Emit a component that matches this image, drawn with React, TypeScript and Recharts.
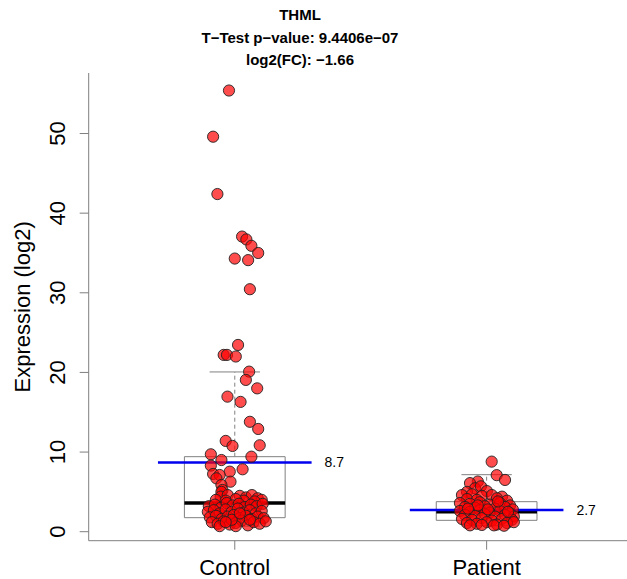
import React from 'react';
import {
  ComposedChart,
  Scatter,
  XAxis,
  YAxis,
  ReferenceArea,
  ReferenceLine,
} from 'recharts';

const groups = ['Control', 'Patient'];
const yTicks = [0, 10, 20, 30, 40, 50];

const titleLines = ['THML', 'T\u2212Test p\u2212value: 9.4406e\u221207', 'log2(FC): \u22121.66'];

// box statistics: [whiskerLo, q1, median, q3, whiskerHi, mean]
const controlStats = [0.7, 1.76, 3.6, 9.42, 20.06, 8.7];
const patientStats = [0.75, 1.43, 2.5, 3.77, 7.16, 2.72];
const meanLabels = ['8.7', '2.7'];

const controlPoints: [number, number][] = [
  [0.977, 55.4], [0.914, 49.6], [0.931, 42.4], [1.029, 37.06], [1.046, 36.7], [1.066, 35.9],
  [1.093, 35.0], [1.0, 34.3], [1.053, 34.1], [1.06, 30.45],
  [1.013, 23.45], [0.956, 22.2], [0.969, 22.2], [1.004, 22.0], [1.057, 20.1], [1.044, 19.06],
  [1.089, 18.0], [0.971, 16.96], [1.023, 16.3], [1.06, 13.8], [1.093, 12.9], [0.964, 11.4],
  [0.991, 10.77], [1.099, 10.85], [0.905, 9.72], [0.947, 9.0], [1.066, 9.42], [0.905, 8.3],
  [1.031, 7.84], [0.98, 7.54], [0.914, 7.25], [0.94, 7.12], [0.983, 6.28], [0.927, 6.7],
  [0.947, 5.87], [0.951, 5.24],
  [0.947, 5.0], [0.944, 4.4], [0.972, 4.6], [0.925, 4.0], [0.964, 3.9],
  [1.02, 4.5], [1.044, 4.3], [1.068, 4.6], [1.091, 4.2], [1.107, 4.0], [1.036, 3.9], [1.004, 4.1], [1.079, 3.8],
  [0.897, 3.2], [0.921, 3.4], [0.944, 3.0], [0.968, 3.6], [0.992, 3.3], [1.016, 3.5], [1.04, 3.1],
  [1.064, 3.4], [1.087, 3.2], [1.111, 3.5],
  [0.893, 2.5], [0.917, 2.7], [0.94, 2.3], [0.964, 2.8], [0.988, 2.5], [1.012, 2.9], [1.036, 2.4],
  [1.06, 2.7], [1.083, 2.3], [1.107, 2.6],
  [0.901, 1.8], [0.925, 2.0], [0.948, 1.6], [0.972, 1.9], [0.996, 2.1], [1.02, 1.7], [1.044, 2.0],
  [1.068, 1.6], [1.091, 1.9], [1.115, 1.7],
  [0.909, 1.2], [0.932, 1.0], [0.956, 1.3], [0.98, 0.9], [1.004, 1.1], [1.028, 1.4], [1.052, 0.8],
  [1.075, 1.2], [1.099, 1.0], [1.123, 1.3],
  [0.94, 0.7], [1.004, 0.7], [1.06, 1.5], [0.988, 1.5], [1.02, 2.3], [0.964, 1.2],
];

const patientPoints: [number, number][] = [
  [2.02, 8.8], [2.04, 7.1], [2.073, 6.5],
  [1.965, 6.3], [1.934, 6.1], [1.954, 5.45], [1.977, 5.7], [1.922, 5.0], [2.001, 5.1],
  [1.902, 4.6], [1.942, 4.7], [1.981, 4.5], [2.021, 4.6], [2.061, 4.4], [1.922, 4.1], [1.961, 4.0],
  [2.041, 4.2], [2.081, 3.9],
  [1.894, 3.6], [1.934, 3.5], [1.973, 3.7], [2.013, 3.4], [2.053, 3.6], [2.093, 3.3], [1.914, 3.1],
  [1.954, 3.0], [1.993, 3.2], [2.033, 2.9], [2.073, 3.1], [2.104, 2.8],
  [1.894, 2.6], [1.934, 2.5], [1.973, 2.7], [2.013, 2.4], [2.053, 2.6], [2.093, 2.3], [1.914, 2.1],
  [1.954, 2.0], [1.993, 2.2], [2.033, 1.9], [2.073, 2.1], [2.108, 1.9],
  [1.902, 1.6], [1.942, 1.5], [1.981, 1.7], [2.021, 1.4], [2.061, 1.6], [2.101, 1.5], [1.922, 1.1],
  [1.961, 1.0], [2.001, 1.2], [2.041, 0.9], [2.081, 1.1], [1.934, 0.8], [1.981, 0.85], [2.029, 0.8],
  [2.069, 0.75], [2.108, 1.2],
  [2.005, 2.8], [1.965, 3.3], [2.045, 3.8], [1.926, 2.9], [2.085, 2.5],
];

const FONT = '"Liberation Sans", Arial, Helvetica, sans-serif';
const FRAME = '#7f7f7f';
const BOX = '#808080';

const controlData = controlPoints.map(([x, y]) => ({ x, y }));
const patientData = patientPoints.map(([x, y]) => ({ x, y }));

const Dot = (p: any) => (
  <circle cx={p.cx} cy={p.cy} r={5.6} fill="#ff0000" fillOpacity={0.7} stroke="#222" strokeOpacity={0.9} strokeWidth={1} />
);

const YTick = (p: any) => {
  const x = p.x - 20;
  return (
    <text
      x={x}
      y={p.y}
      transform={`rotate(-90 ${x} ${p.y})`}
      textAnchor="middle"
      dominantBaseline="central"
      fontSize={22}
      fontFamily={FONT}
      fill="#000"
    >
      {p.payload.value}
    </text>
  );
};

const YLabel = (p: any) => {
  const vb = p.viewBox || { x: 0, y: 73, width: 88, height: 468 };
  const x = 23;
  const y = vb.y + vb.height / 2;
  return (
    <text
      x={x}
      y={y}
      transform={`rotate(-90 ${x} ${y})`}
      textAnchor="middle"
      dominantBaseline="central"
      fontSize={22}
      fontFamily={FONT}
      fill="#000"
    >
      Expression (log2)
    </text>
  );
};

function boxElements(center: number, s: number[], key: string) {
  const [lo, q1, med, q3, hi] = s;
  const hw = 0.2;
  const cap = 0.1;
  return [
    <ReferenceLine key={key + 'wu'} segment={[{ x: center, y: q3 }, { x: center, y: hi }]} stroke={BOX} strokeDasharray="4 3" strokeWidth={1} />,
    <ReferenceLine key={key + 'wl'} segment={[{ x: center, y: lo }, { x: center, y: q1 }]} stroke={BOX} strokeDasharray="4 3" strokeWidth={1} />,
    <ReferenceLine key={key + 'cu'} segment={[{ x: center - cap, y: hi }, { x: center + cap, y: hi }]} stroke={BOX} strokeWidth={1} />,
    <ReferenceLine key={key + 'cl'} segment={[{ x: center - cap, y: lo }, { x: center + cap, y: lo }]} stroke={BOX} strokeWidth={1} />,
    <ReferenceArea key={key + 'bx'} x1={center - hw} x2={center + hw} y1={q1} y2={q3} fill="none" fillOpacity={0} stroke={BOX} strokeWidth={1} strokeOpacity={1} />,
    <ReferenceLine key={key + 'md'} segment={[{ x: center - hw, y: med }, { x: center + hw, y: med }]} stroke="#000" strokeWidth={3.5} />,
  ];
}

function meanElement(center: number, s: number[], label: string, key: string) {
  const mean = s[5];
  const mw = 0.305;
  return (
    <ReferenceLine
      key={key + 'mean'}
      segment={[{ x: center - mw, y: mean }, { x: center + mw, y: mean }]}
      stroke="#0000ee"
      strokeWidth={2.5}
      label={{ value: label, position: 'right', offset: 13, fontSize: 14, fontFamily: FONT, fill: '#000' }}
    />
  );
}

export default function App() {
  return (
    <div style={{ position: 'fixed', left: 0, top: 0, width: 627, height: 579, overflow: 'hidden', background: '#fff' }}>
      <div style={{ position: 'absolute', left: 0, top: 4, width: 600, textAlign: 'center', fontFamily: FONT, fontWeight: 'bold', fontSize: 15, lineHeight: '22.5px', color: '#000' }}>
        {titleLines.map((t) => (
          <div key={t}>{t}</div>
        ))}
      </div>
      <ComposedChart
        width={640}
        height={579}
        margin={{ top: 73, right: 7.3, bottom: 0, left: 0 }}
        style={{ position: 'absolute', left: 0, top: 0 }}
      >
        <XAxis
          xAxisId={0}
          type="number"
          dataKey="x"
          domain={[0.42, 2.58]}
          ticks={[1, 2]}
          tickFormatter={(v: number) => groups[Math.round(v) - 1]}
          allowDataOverflow
          height={38.3}
          tickSize={9}
          tickMargin={9.3}
          stroke={FRAME}
          tick={{ fill: '#000', fontSize: 22, fontFamily: FONT }}
        />
        <XAxis
          xAxisId="top"
          orientation="top"
          type="number"
          domain={[0.42, 2.58]}
          height={0}
          tick={false}
          tickLine={false}
          stroke={FRAME}
        />
        <YAxis
          type="number"
          domain={[-1.13, 57.6]}
          ticks={yTicks}
          allowDataOverflow
          width={88.7}
          tickSize={9}
          tickMargin={2}
          stroke={FRAME}
          tick={<YTick />}
          label={{ content: <YLabel /> }}
        />
        {boxElements(1, controlStats, 'c')}
        {boxElements(2, patientStats, 'p')}
        <Scatter data={controlData} dataKey="y" shape={<Dot />} isAnimationActive={false} />
        <Scatter data={patientData} dataKey="y" shape={<Dot />} isAnimationActive={false} />
        {meanElement(1, controlStats, meanLabels[0], 'c')}
        {meanElement(2, patientStats, meanLabels[1], 'p')}
      </ComposedChart>
    </div>
  );
}
